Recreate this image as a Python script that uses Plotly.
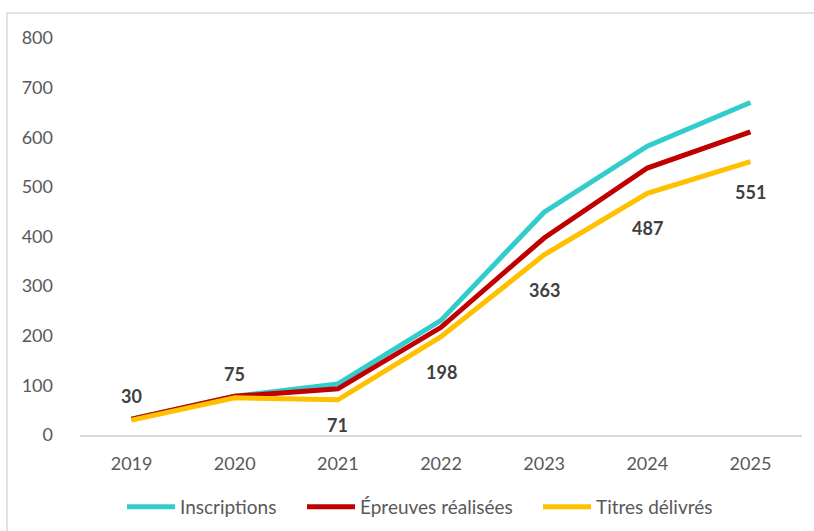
import plotly.graph_objects as go

years = ["2019", "2020", "2021", "2022", "2023", "2024", "2025"]
inscriptions = [32, 78, 103, 231, 449, 582, 670]
epreuves = [32, 78, 93, 217, 397, 538, 611]
titres = [30, 75, 71, 198, 363, 487, 551]

# label offsets (px) for the "Titres délivrés" data labels
label_shift = [24, 24, -25, -35, -35, -35, -30]

FONT = "Lato, Carlito, 'Liberation Sans', sans-serif"
fig = go.Figure()
fig.add_trace(go.Scatter(x=years, y=inscriptions, name="Inscriptions", mode="lines",
                         line=dict(color="#33CCCC", width=5), legend="legend"))
fig.add_trace(go.Scatter(x=years, y=epreuves, name="Épreuves réalisées", mode="lines",
                         line=dict(color="#C00000", width=5), legend="legend2"))
fig.add_trace(go.Scatter(x=years, y=titres, name="Titres délivrés", mode="lines",
                         line=dict(color="#FFC000", width=5), legend="legend3"))

for i, (v, dy) in enumerate(zip(titres, label_shift)):
    fig.add_annotation(x=i, y=v, xref="x", yref="y", text=f"<b>{v}</b>", showarrow=False,
                       yshift=dy, font=dict(family=FONT, size=18, color="#404040"))

fig.add_shape(type="rect", xref="paper", yref="paper",
              x0=(7 - 80) / 722, x1=(830 - 80) / 722,
              y0=(435 - 545) / 397, y1=1 + (38 - 13) / 397,
              line=dict(color="#D9D9D9", width=1.5), layer="below")

def leg(px):
    return dict(orientation="h", x=(px - 80) / 722, xanchor="left",
                y=-(507 - 435) / 397, yanchor="middle", itemwidth=48,
                font=dict(size=19, color="#595959"), bgcolor="rgba(0,0,0,0)")

fig.update_layout(
    width=814, height=531,
    margin=dict(l=80, r=12, t=38, b=96, autoexpand=False),
    paper_bgcolor="white", plot_bgcolor="white",
    font=dict(family=FONT, color="#595959", size=18),
    showlegend=True,
    legend=leg(122), legend2=leg(302), legend3=leg(538),
    xaxis=dict(type="category", range=[-0.5, 6.5], showgrid=False, showline=True,
               linecolor="#D9D9D9", linewidth=1.5, ticks="", tickfont=dict(size=18),
               ticklabelstandoff=12, automargin=False),
    yaxis=dict(range=[0, 800], dtick=100, showgrid=False, showline=False, zeroline=False,
               ticks="", tickfont=dict(size=18), ticklabelstandoff=26, automargin=False),
)
fig.write_html("out.html", post_script="document.body.style.margin='0';",
               config={"displayModeBar": False})
